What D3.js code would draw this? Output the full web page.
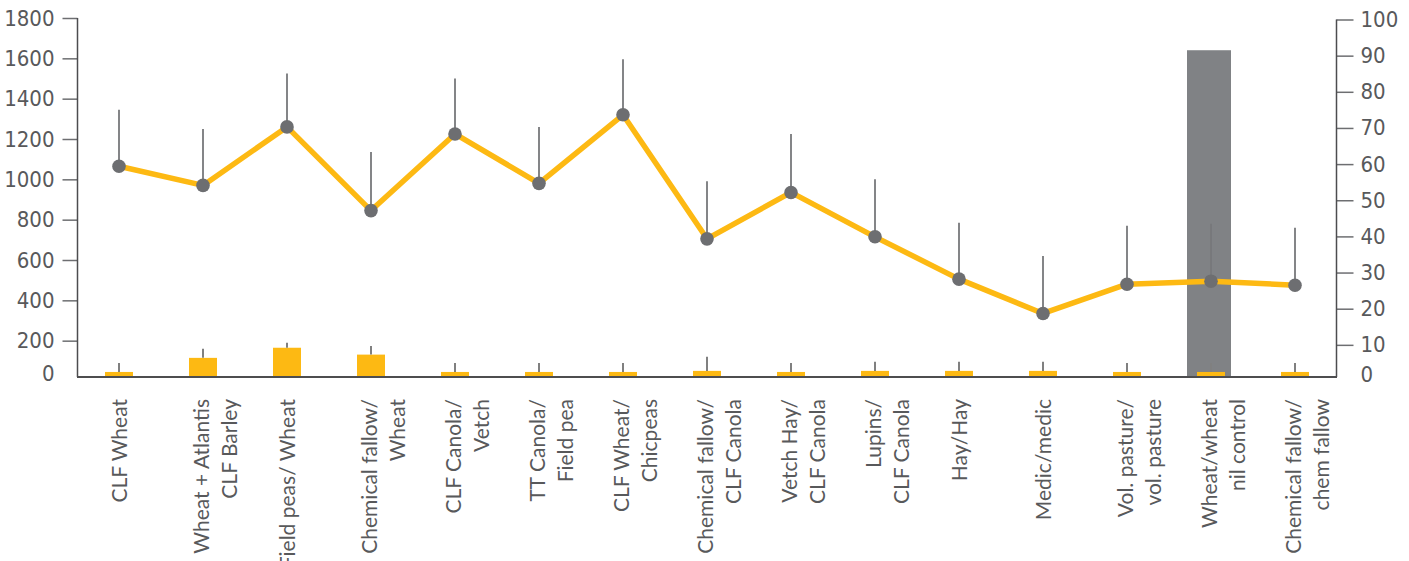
<!DOCTYPE html>
<html>
<head>
<meta charset="utf-8">
<script src="https://cdn.jsdelivr.net/npm/d3@7"></script>
<style>
  body { margin: 0; background: #fff; }
  .tick text { fill: #58595b; }
</style>
</head>
<body>
<div id="chart"></div>
<script>
// categories (line breaks as shown under the axis)
var categories = [
  "CLF Wheat",
  "Wheat + Atlantis\nCLF Barley",
  "Field peas/ Wheat",
  "Chemical fallow/\nWheat",
  "CLF Canola/\nVetch",
  "TT Canola/\nField pea",
  "CLF Wheat/\nChicpeas",
  "Chemical fallow/\nCLF Canola",
  "Vetch Hay/\nCLF Canola",
  "Lupins/\nCLF Canola",
  "Hay/Hay",
  "Medic/medic",
  "Vol. pasture/\nvol. pasture",
  "Wheat/wheat\nnil control",
  "Chemical fallow/\nchem fallow"
];

// line series (left axis) and its upper error
var lineValues = [1065, 970, 1260, 845, 1225, 980, 1320, 705, 935, 715, 505, 335, 480, 495, 475];
var lineErrors = [280, 280, 265, 290, 275, 280, 275, 285, 290, 285, 280, 285, 290, 285, 285];

// small yellow bars (right axis) and their upper error
var barValues = [2.5, 6.4, 9.2, 7.3, 2.5, 2.5, 2.5, 2.8, 2.5, 2.8, 2.8, 2.8, 2.5, 2.5, 2.5];
var barErrors = [2.5, 2.5, 1.4, 2.4, 2.5, 2.5, 2.5, 3.9, 2.5, 2.5, 2.5, 2.5, 2.5, 2.5, 2.5];

// grey control bar (right axis)
var controlValues = [0, 0, 0, 0, 0, 0, 0, 0, 0, 0, 0, 0, 0, 91.5, 0];

var leftTicks = [0, 200, 400, 600, 800, 1000, 1200, 1400, 1600, 1800];
var rightTicks = [0, 10, 20, 30, 40, 50, 60, 70, 80, 90, 100];

var width = 1409, height = 561;
var baseY = 377;
var yellow = "#fdb913", grey = "#6d6e71";
var tickFont = "'Liberation Sans Narrow', 'DejaVu Sans Condensed', sans-serif";

var svg = d3.select("#chart")
  .append("svg")
    .attr("width", width)
    .attr("height", height);

var x = d3.scaleBand()
  .domain(d3.range(categories.length))
  .range([77, 1337])
  .padding(0);
var cx = function(i) { return x(i) + x.bandwidth() / 2; };

var yL = d3.scaleLinear().domain([0, 1800]).range([381, 18]);
var yR = d3.scaleLinear().domain([0, 100]).range([381, 19.5]);

// grey control bar
svg.append("g").selectAll("rect")
  .data(controlValues.map(function(v, i) { return { v: v, i: i }; }).filter(function(d) { return d.v > 0; }))
  .enter().append("rect")
    .attr("x", function(d) { return cx(d.i) - 24; })
    .attr("y", function(d) { return yR(d.v); })
    .attr("width", 44)
    .attr("height", function(d) { return baseY - yR(d.v); })
    .attr("fill", "#808285");

// yellow bars
svg.append("g").selectAll("rect")
  .data(barValues)
  .enter().append("rect")
    .attr("x", function(d, i) { return cx(i) - 14; })
    .attr("y", function(d) { return yR(d); })
    .attr("width", 28)
    .attr("height", function(d) { return baseY - yR(d); })
    .attr("fill", yellow);

// bar error lines
svg.append("g").selectAll("line")
  .data(barValues)
  .enter().append("line")
    .attr("x1", function(d, i) { return cx(i); })
    .attr("x2", function(d, i) { return cx(i); })
    .attr("y1", function(d) { return yR(d); })
    .attr("y2", function(d, i) { return yR(d + barErrors[i]); })
    .attr("stroke", "#808080")
    .attr("stroke-width", 2);

// left axis
var leftAxis = svg.append("g")
  .attr("transform", "translate(77.5,0)")
  .call(d3.axisLeft(yL).tickValues(leftTicks).tickFormat(d3.format("d")).tickSize(15).tickPadding(8));
leftAxis.select(".domain").remove();
leftAxis.selectAll(".tick line").attr("stroke", "#6d6e71").attr("stroke-width", 1.5);
leftAxis.selectAll(".tick text")
  .style("font-family", tickFont)
  .style("font-size", "22px");
leftAxis.selectAll(".tick").filter(function(d) { return d === 0; })
  .each(function() {
    d3.select(this).select("line").remove();
    d3.select(this).select("text").attr("y", -8);
  });

// right axis
var rightAxis = svg.append("g")
  .attr("transform", "translate(1336.5,0)")
  .call(d3.axisRight(yR).tickValues(rightTicks).tickFormat(d3.format("d")).tickSize(17).tickPadding(7));
rightAxis.select(".domain").remove();
rightAxis.selectAll(".tick line").attr("stroke", "#6d6e71").attr("stroke-width", 1.5);
rightAxis.selectAll(".tick text")
  .style("font-family", tickFont)
  .style("font-size", "22px");
rightAxis.selectAll(".tick").filter(function(d) { return d === 0; })
  .each(function() {
    d3.select(this).select("line").remove();
    d3.select(this).select("text").attr("y", -7);
  });

// axis frame lines
svg.append("line")
  .attr("x1", 77.5).attr("x2", 77.5).attr("y1", yL(1800)).attr("y2", baseY)
  .attr("stroke", "#4d4d4f").attr("stroke-width", 1.5);
svg.append("line")
  .attr("x1", 1336.5).attr("x2", 1336.5).attr("y1", yR(100)).attr("y2", baseY)
  .attr("stroke", "#4d4d4f").attr("stroke-width", 1.5);
svg.append("line")
  .attr("x1", 77).attr("x2", 1337).attr("y1", baseY).attr("y2", baseY)
  .attr("stroke", "#4d4d4f").attr("stroke-width", 2);

// yield line
var line = d3.line()
  .x(function(d, i) { return cx(i); })
  .y(function(d) { return yL(d); });
svg.append("path")
  .datum(lineValues)
  .attr("d", line)
  .attr("fill", "none")
  .attr("stroke", yellow)
  .attr("stroke-width", 5.5)
  .attr("stroke-linejoin", "round");

// line error bars
svg.append("g").selectAll("line")
  .data(lineValues)
  .enter().append("line")
    .attr("x1", function(d, i) { return cx(i); })
    .attr("x2", function(d, i) { return cx(i); })
    .attr("y1", function(d) { return yL(d); })
    .attr("y2", function(d, i) { return yL(d + lineErrors[i]); })
    .attr("stroke", "#77787b")
    .attr("stroke-width", 1.8);

// markers
svg.append("g").selectAll("circle")
  .data(lineValues)
  .enter().append("circle")
    .attr("cx", function(d, i) { return cx(i); })
    .attr("cy", function(d) { return yL(d); })
    .attr("r", 6.8)
    .attr("fill", grey);

// category labels, rotated
var labels = svg.append("g").selectAll("g")
  .data(categories)
  .enter().append("g");
labels.each(function(d, i) {
  var lines = d.split("\n");
  var g = d3.select(this);
  lines.forEach(function(t, k) {
    var lx = lines.length === 1 ? cx(i) - 1 : cx(i) - 3 + k * 28;
    g.append("text")
      .attr("transform", "translate(" + lx + ",399) rotate(-90)")
      .attr("text-anchor", "end")
      .attr("dominant-baseline", "central")
      .style("font-family", "Lato, 'Open Sans', sans-serif")
      .style("font-size", "21px")
      .attr("fill", "#58595b")
      .text(t);
  });
});
</script>
</body>
</html>
